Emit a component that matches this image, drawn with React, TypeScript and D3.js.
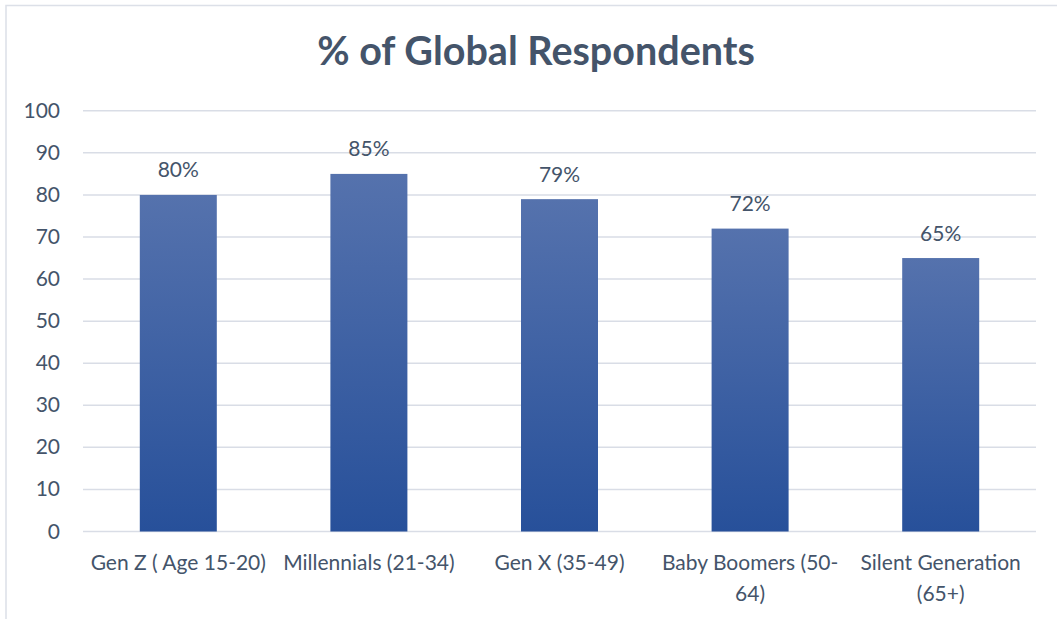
import React from "react";
import * as d3 from "d3";

const categories = ["Gen Z ( Age 15-20)", "Millennials (21-34)", "Gen X (35-49)", "Baby Boomers (50-64)", "Silent Generation (65+)"];
const categoryLines = [["Gen Z ( Age 15-20)"], ["Millennials (21-34)"], ["Gen X (35-49)"], ["Baby Boomers (50-", "64)"], ["Silent Generation", "(65+)"]];
const values = [80, 85, 79, 72, 65];
const yTicks = [0, 10, 20, 30, 40, 50, 60, 70, 80, 90, 100];
const title = "% of Global Respondents";

const W = 1057;
const H = 619;
const FONT = "Lato, 'Open Sans', sans-serif";
const TEXT = "#44546A";

export default function App() {
  const x = d3.scaleBand<string>().domain(categories).range([83, 1036]).padding(0);
  const y = d3.scaleLinear().domain([0, 100]).range([531.5, 110.8]);
  const barW = x.bandwidth() * 0.404;

  return (
    <svg width={W} height={H} style={{ position: "absolute", left: 0, top: 0, background: "#fff" }}>
      <defs>
        <linearGradient id="barGrad" x1="0" y1="0" x2="0" y2="1">
          <stop offset="0" stopColor="#5572AD" />
          <stop offset="1" stopColor="#27509A" />
        </linearGradient>
      </defs>
      <rect x={6} y={5.5} width={W + 10} height={H + 10} fill="#fff" stroke="#DCE0E8" strokeWidth={1.5} />
      <text x={536} y={65} textAnchor="middle" fontFamily={FONT} fontWeight={700} fontSize={39.5} fill={TEXT}>{title}</text>
      {yTicks.map((t) => (
        <g key={t}>
          <line x1={83} x2={1036} y1={y(t)} y2={y(t)} stroke="#D9DDE6" strokeWidth={1.5} />
          <text x={60} y={y(t) + 7} textAnchor="end" fontFamily={FONT} fontSize={21} fill={TEXT}>{t}</text>
        </g>
      ))}
      {categories.map((c, i) => {
        const cx = (x(c) as number) + x.bandwidth() / 2;
        return (
          <g key={c}>
            <rect x={cx - barW / 2} y={y(values[i])} width={barW} height={y(0) - y(values[i])} fill="url(#barGrad)" />
            <text x={cx} y={y(values[i]) - 17.5} textAnchor="middle" fontFamily={FONT} fontSize={21} fill={TEXT}>{values[i]}%</text>
            {categoryLines[i].map((ln, j) => (
              <text key={j} x={cx} y={570 + j * 31} textAnchor="middle" fontFamily={FONT} fontSize={21} fill={TEXT}>{ln}</text>
            ))}
          </g>
        );
      })}
    </svg>
  );
}
